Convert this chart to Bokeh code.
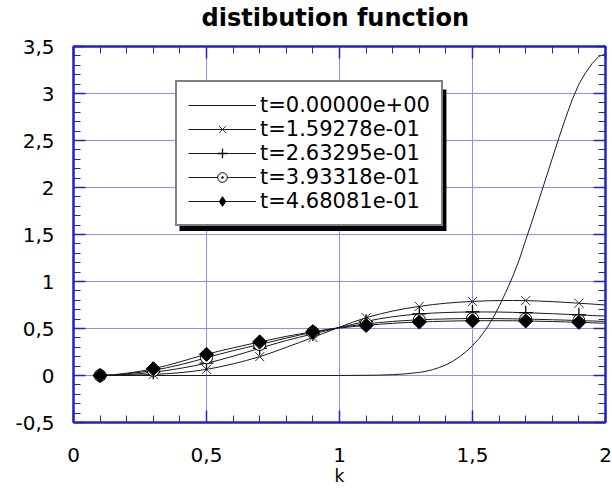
import numpy as np
from bokeh.plotting import figure
from bokeh.models import (LinearAxis, SingleIntervalTicker, CustomJSTickFormatter,
                          Legend, LegendItem, BoxAnnotation, Range1d)
from bokeh.embed import file_html
from bokeh.resources import INLINE

# ---------------- data ----------------
k0 = [0.10, 0.50, 1.00, 1.10, 1.15, 1.20, 1.25, 1.30, 1.325, 1.35, 1.375, 1.40,
      1.425, 1.45, 1.475, 1.50, 1.525, 1.55, 1.575, 1.60, 1.625, 1.65, 1.675,
      1.70, 1.725, 1.75, 1.775, 1.80, 1.825, 1.85, 1.875, 1.90, 1.925, 1.95,
      1.975, 2.00]
f_t0 = [0.0, 0.0, 0.0002, 0.002, 0.004, 0.009, 0.018, 0.033, 0.045, 0.062, 0.085,
        0.113, 0.150, 0.196, 0.252, 0.318, 0.395, 0.490, 0.600, 0.735, 0.885,
        1.045, 1.225, 1.440, 1.650, 1.870, 2.090, 2.310, 2.530, 2.740, 2.935,
        3.100, 3.220, 3.320, 3.395, 3.420]

k = [0.10, 0.15, 0.20, 0.25, 0.30, 0.35, 0.40, 0.45, 0.50, 0.55, 0.60, 0.65,
     0.70, 0.75, 0.80, 0.85, 0.90, 0.95, 1.00, 1.05, 1.10, 1.15, 1.20, 1.25,
     1.30, 1.35, 1.40, 1.45, 1.50, 1.55, 1.60, 1.65, 1.70, 1.75, 1.80, 1.85,
     1.90, 1.95, 2.00]
f_t1 = [0.000, 0.001, 0.003, 0.006, 0.011, 0.019, 0.030, 0.045, 0.065, 0.092,
        0.124, 0.160, 0.200, 0.248, 0.300, 0.352, 0.405, 0.460, 0.515, 0.567,
        0.615, 0.653, 0.686, 0.713, 0.735, 0.754, 0.769, 0.780, 0.788, 0.794,
        0.797, 0.798, 0.797, 0.792, 0.786, 0.778, 0.769, 0.760, 0.750]
f_t2 = [0.000, 0.003, 0.010, 0.020, 0.035, 0.053, 0.075, 0.101, 0.131, 0.166,
        0.205, 0.247, 0.290, 0.332, 0.372, 0.408, 0.442, 0.476, 0.510, 0.544,
        0.576, 0.603, 0.625, 0.642, 0.655, 0.664, 0.670, 0.674, 0.676, 0.676,
        0.675, 0.672, 0.668, 0.663, 0.657, 0.651, 0.645, 0.638, 0.632]
f_t3 = [0.000, 0.006, 0.018, 0.034, 0.055, 0.082, 0.114, 0.150, 0.189, 0.228,
        0.264, 0.298, 0.330, 0.364, 0.398, 0.430, 0.460, 0.487, 0.511, 0.531,
        0.548, 0.563, 0.575, 0.585, 0.592, 0.598, 0.602, 0.605, 0.606, 0.606,
        0.605, 0.603, 0.600, 0.597, 0.593, 0.589, 0.584, 0.580, 0.575]
f_t4 = [0.000, 0.008, 0.024, 0.045, 0.072, 0.106, 0.145, 0.186, 0.225, 0.261,
        0.294, 0.326, 0.357, 0.387, 0.416, 0.442, 0.466, 0.487, 0.505, 0.520,
        0.533, 0.545, 0.555, 0.563, 0.569, 0.574, 0.578, 0.581, 0.582, 0.583,
        0.583, 0.582, 0.580, 0.577, 0.574, 0.570, 0.566, 0.561, 0.556]
legend_labels = ["t=0.00000e+00", "t=1.59278e-01", "t=2.63295e-01",
                 "t=3.93318e-01", "t=4.68081e-01"]
title_text = "distibution  function"
x_label_text = "k"

# ---------------- styling ----------------
BLUE = "#2323c8"
GRID = "#8c8cff"
FONT = "DejaVu Sans"

p = figure(width=612, height=488, output_backend="svg", toolbar_location=None,
           x_range=Range1d(0, 2), y_range=Range1d(-0.5, 3.5),
           min_border_left=73, min_border_right=7, min_border_top=46,
           min_border_bottom=65)
p.outline_line_color = BLUE
p.outline_line_width = 2
p.background_fill_color = "white"
p.border_fill_color = "white"

fmt = CustomJSTickFormatter(
    code="return tick.toFixed(1).replace('.', ',').replace(/,0$/, '');")
blank = CustomJSTickFormatter(code="return '';")

xa = p.below[0]
ya = p.left[0]
top_axis = LinearAxis()
right_axis = LinearAxis()
p.add_layout(top_axis, "above")
p.add_layout(right_axis, "right")

for ax in [xa, ya, top_axis, right_axis]:
    ax.ticker = SingleIntervalTicker(interval=0.5, num_minor_ticks=5)
    ax.axis_line_color = BLUE
    ax.axis_line_width = 2
    ax.major_tick_line_color = BLUE
    ax.major_tick_line_width = 1.5
    ax.major_tick_in = 12
    ax.major_tick_out = 0
    ax.minor_tick_line_color = BLUE
    ax.minor_tick_line_width = 1
    ax.minor_tick_in = 7
    ax.minor_tick_out = 0
    ax.major_label_text_font = FONT
    ax.major_label_text_font_size = "20px"
    ax.major_label_text_color = "black"

xa.formatter = fmt
ya.formatter = fmt
xa.major_label_standoff = 25
ya.major_label_standoff = 19
xa.axis_label = x_label_text
xa.axis_label_text_font = FONT
xa.axis_label_text_font_size = "17px"
xa.axis_label_text_font_style = "normal"
xa.axis_label_text_color = "black"
xa.axis_label_standoff = 1
for ax in [top_axis, right_axis]:
    ax.formatter = blank
    ax.major_label_text_font_size = "0px"
    ax.major_label_standoff = 0

# chart title, carried by the top (mirror) axis so it sits just above the frame
top_axis.axis_label = title_text
top_axis.axis_label_text_font = FONT
top_axis.axis_label_text_font_size = "24px"
top_axis.axis_label_text_font_style = "bold"
top_axis.axis_label_text_color = "black"
top_axis.axis_label_standoff = 15

p.xgrid.ticker = SingleIntervalTicker(interval=0.5)
p.ygrid.ticker = SingleIntervalTicker(interval=0.5)
p.grid.grid_line_color = GRID
p.grid.grid_line_width = 1

# ---------------- curves ----------------
LINE = "#1a1a1a"
items = []
r0 = p.line(k0, f_t0, line_color=LINE, line_width=1)
items.append(LegendItem(label=legend_labels[0], renderers=[r0]))

r1 = p.line(k, f_t1, line_color=LINE, line_width=1)
s1 = p.scatter(k[::4], f_t1[::4], marker="x", size=13, line_color="#333333",
               line_width=1)
items.append(LegendItem(label=legend_labels[1], renderers=[r1, s1]))

r2 = p.line(k, f_t2, line_color=LINE, line_width=1)
s2 = p.scatter(k[::4], f_t2[::4], marker="cross", size=14, line_color="black",
               line_width=1.3)
items.append(LegendItem(label=legend_labels[2], renderers=[r2, s2]))

r3 = p.line(k, f_t3, line_color=LINE, line_width=1)
s3 = p.scatter(k[::4], f_t3[::4], marker="circle_dot", size=12,
               fill_color="white", line_color="black", line_width=1)
items.append(LegendItem(label=legend_labels[3], renderers=[r3, s3]))

r4 = p.line(k, f_t4, line_color=LINE, line_width=1)
# diamond drawn first (hidden under the rotated squares) - used for the legend,
# because legend markers are always drawn unrotated
d4 = p.scatter(k[::4], f_t4[::4], marker="diamond", size=11,
               fill_color="black", line_color="black", line_width=1)
s4 = p.scatter(k[::4], f_t4[::4], marker="square", size=10, angle=np.pi / 4,
               fill_color="black", line_color="black", line_width=1)
items.append(LegendItem(label=legend_labels[4], renderers=[r4, d4]))

# ---------------- legend with drop shadow ----------------
shadow = BoxAnnotation(left=0.3985, right=1.402, top=3.0438, bottom=1.537,
                       fill_color="black", fill_alpha=1, line_color=None,
                       level="annotation")
p.add_layout(shadow)

legend = Legend(items=items, location=(102, 196),
                border_line_color="black", border_line_width=2,
                background_fill_color="white", background_fill_alpha=1,
                label_text_font=FONT, label_text_font_size="21px",
                label_text_color="black",
                glyph_width=68, glyph_height=24, label_height=24,
                label_standoff=4, spacing=0, padding=11, margin=0)
p.add_layout(legend, "center")

open("out.html", "w").write(file_html(p, INLINE))
